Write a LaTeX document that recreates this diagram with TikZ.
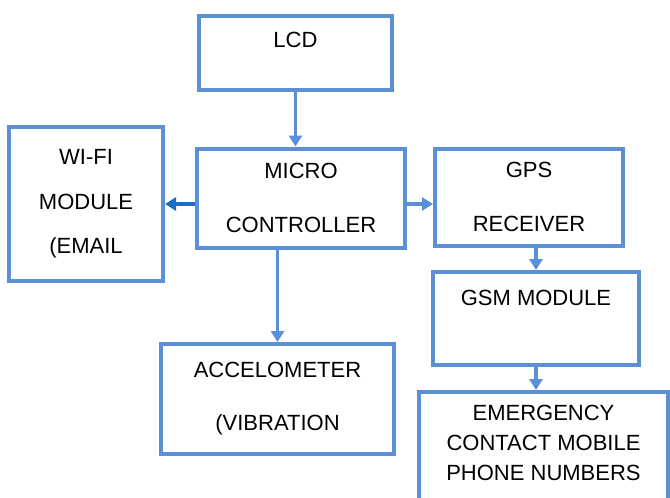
\documentclass[tikz,border=0pt]{standalone}
\usepackage{fontspec}
\setmainfont{Liberation Sans}
\usetikzlibrary{arrows.meta}
\definecolor{boxblue}{RGB}{91,143,214}
\definecolor{darkblue}{RGB}{30,108,196}

\begin{document}
\begin{tikzpicture}[x=1pt,y=-1pt]
	\clip (0,0) rectangle (670,498);
	\useasboundingbox (0,0) rectangle (670,498);
	\begin{scope}[every node/.style={rectangle, draw=boxblue, line width=4pt, align=center, inner sep=0pt,
	              font=\fontsize{22}{30}\selectfont}]
		\node[minimum width=193pt, minimum height=74pt] (lcd) at (295.5,53) {LCD\\[-4pt]~};
		\node[minimum width=154pt, minimum height=154pt] (wifi) at (86,204) {WI-FI\\[14.5pt]MODULE\\[14.5pt](EMAIL};
		\node[minimum width=208pt, minimum height=99pt] (micro) at (301,198) {MICRO\\[24pt]CONTROLLER\\[-30pt]~};
		\node[minimum width=188pt, minimum height=97pt] (gps) at (529,197) {GPS\\[24pt]RECEIVER\\[-30pt]~};
		\node[minimum width=206pt, minimum height=93pt] (gsm) at (536,318.5) {GSM MODULE\\[11pt]~};
		\node[minimum width=233pt, minimum height=110pt] (accel) at (277.5,399) {ACCELOMETER\\[23pt](VIBRATION};
		\node[minimum width=249pt, minimum height=132pt] (emerg) at (543.5,458) {EMERGENCY\\CONTACT MOBILE\\PHONE NUMBERS\\~};
	\end{scope}

	\begin{scope}[>={Triangle[length=11pt,width=13pt]},
	              every edge/.style={draw=boxblue, line width=3.5pt}]
		\path (lcd.south) edge[->] (lcd.south |- micro.north);
		\path (micro.west |- wifi) edge[->, draw=darkblue] (wifi.east);
		\path (micro.east |- wifi) edge[->] (gps.west |- wifi);
		\path (accel.north |- micro.south) edge[->] (accel.north);
		\path (gsm.north |- gps.south) edge[->] (gsm.north);
		\path (gsm.south) edge[->] (gsm.south |- emerg.north);
	\end{scope}
\end{tikzpicture}
\end{document}
